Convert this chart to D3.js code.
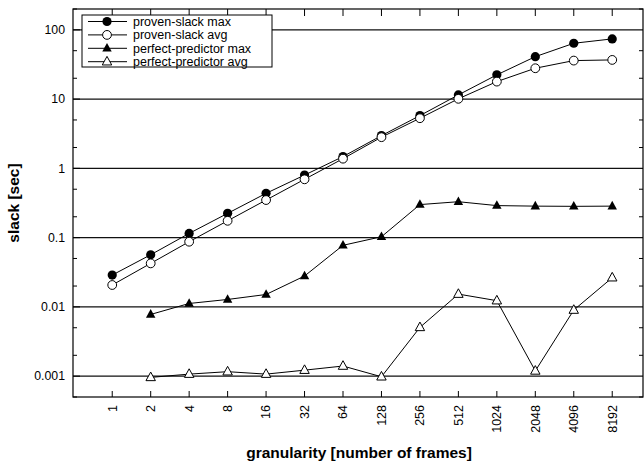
<!DOCTYPE html>
<html><head><meta charset="utf-8">
<script src="https://cdn.jsdelivr.net/npm/d3@7"></script>
<style>body{margin:0;background:#fff}svg{display:block}text{font-family:"Liberation Sans",Arial,sans-serif}</style>
</head><body><svg id="c" width="644" height="465"></svg>
<script>
const granularity = ["1","2","4","8","16","32","64","128","256","512","1024","2048","4096","8192"];
const provenMax  = [0.0288,0.0566,0.115,0.224,0.436,0.80,1.48,2.97,5.78,11.5,22.4,41,64,74];
const provenAvg  = [0.0207,0.0425,0.0873,0.175,0.349,0.695,1.38,2.82,5.30,10.1,17.9,27.9,36,36.8];
const perfectMax = [null,0.00778,0.0112,0.0128,0.0151,0.0279,0.0775,0.103,0.30,0.33,0.29,0.285,0.283,0.285];
const perfectAvg = [null,0.00096,0.00107,0.00116,0.00107,0.00122,0.0014,0.00098,0.00506,0.0153,0.0123,0.00119,0.0090,0.0264];
const yMajor = [0.001,0.01,0.1,1,10,100];
const yMajorLabels = ["0.001","0.01","0.1","1","10","100"];
const seriesNames = ["proven-slack max","proven-slack avg","perfect-predictor max","perfect-predictor avg"];

const svg = d3.select("#c");
const L=73,R=643,T=9,B=397;
const x = d3.scaleLinear().domain([-1.02,13.8]).range([L,R]);
const y = d3.scaleLog().domain([0.0005,200]).range([B,T]);

// grid
svg.append("g").selectAll("line").data(yMajor).join("line")
  .attr("x1",L).attr("x2",R).attr("y1",d=>y(d)).attr("y2",d=>y(d))
  .attr("stroke","#111").attr("stroke-width",1.2);

// minor ticks
const minor=[];
[0.0001,0.001,0.01,0.1,1,10,100].forEach(b=>[2,5].forEach(m=>{const v=b*m; if(v>=0.0005&&v<=200) minor.push(v);}));
const tg=svg.append("g").attr("stroke","#000").attr("stroke-width",1);
minor.forEach(v=>{
  tg.append("line").attr("x1",L).attr("x2",L+4).attr("y1",y(v)).attr("y2",y(v));
  tg.append("line").attr("x1",R).attr("x2",R-4).attr("y1",y(v)).attr("y2",y(v));
});
yMajor.forEach(v=>{
  tg.append("line").attr("x1",L).attr("x2",L+7).attr("y1",y(v)).attr("y2",y(v));
});
granularity.forEach((g,i)=>{
  tg.append("line").attr("x1",x(i)).attr("x2",x(i)).attr("y1",B).attr("y2",B-6);
  tg.append("line").attr("x1",x(i)).attr("x2",x(i)).attr("y1",T).attr("y2",T+7);
});

// frame
svg.append("rect").attr("x",L).attr("y",T).attr("width",R-L).attr("height",B-T)
  .attr("fill","none").attr("stroke","#000").attr("stroke-width",1.2);

// y labels
svg.append("g").selectAll("text").data(yMajor).join("text")
  .attr("x",L-8).attr("y",d=>y(d)).attr("dy","0.35em").attr("text-anchor","end")
  .attr("font-size",12.3).text((d,i)=>yMajorLabels[i]);
// x labels
svg.append("g").selectAll("text").data(granularity).join("text")
  .attr("transform",(d,i)=>`translate(${x(i)},${B+8}) rotate(-90)`)
  .attr("dy","0.35em").attr("text-anchor","end").attr("font-size",12.5).text(d=>d);

svg.append("text").attr("transform",`translate(19,${(T+B)/2}) rotate(-90)`)
  .attr("text-anchor","middle").attr("font-weight","bold").attr("font-size",15.5).text("slack [sec]");
svg.append("text").attr("x",359).attr("y",458).attr("text-anchor","middle")
  .attr("font-weight","bold").attr("font-size",15.5).text("granularity [number of frames]");

const tri = s=>`M0,${-s*0.62}L${s*0.55},${s*0.38}L${-s*0.55},${s*0.38}Z`;
function marker(g,type){
  if(type===0) g.append("circle").attr("r",4.6).attr("fill","#000");
  else if(type===1) g.append("circle").attr("r",4.4).attr("fill","#fff").attr("stroke","#000");
  else if(type===2) g.append("path").attr("d",tri(8.6)).attr("fill","#000");
  else g.append("path").attr("d",tri(8.6)).attr("fill","#fff").attr("stroke","#000");
}
const allSeries=[provenMax,provenAvg,perfectMax,perfectAvg];
const line=d3.line().defined(d=>d[1]!=null).x(d=>x(d[0])).y(d=>y(d[1]));
allSeries.forEach((s,k)=>{
  const pts=s.map((v,i)=>[i,v]);
  svg.append("path").attr("d",line(pts)).attr("fill","none").attr("stroke","#000").attr("stroke-width",1);
  pts.filter(p=>p[1]!=null).forEach(p=>{
    marker(svg.append("g").attr("transform",`translate(${x(p[0])},${y(p[1])})`),k);
  });
});

// legend
const lg=svg.append("g");
lg.append("rect").attr("x",82).attr("y",15).attr("width",190).attr("height",52)
  .attr("fill","#fff").attr("stroke","#000").attr("stroke-width",1);
seriesNames.forEach((n,k)=>{
  const yy=21.5+k*13.4;
  lg.append("line").attr("x1",88).attr("x2",127).attr("y1",yy).attr("y2",yy).attr("stroke","#000");
  marker(lg.append("g").attr("transform",`translate(107,${yy})`),k);
  lg.append("text").attr("x",133).attr("y",yy).attr("dy","0.35em").attr("font-size",12.5).text(n);
});
</script></body></html>
